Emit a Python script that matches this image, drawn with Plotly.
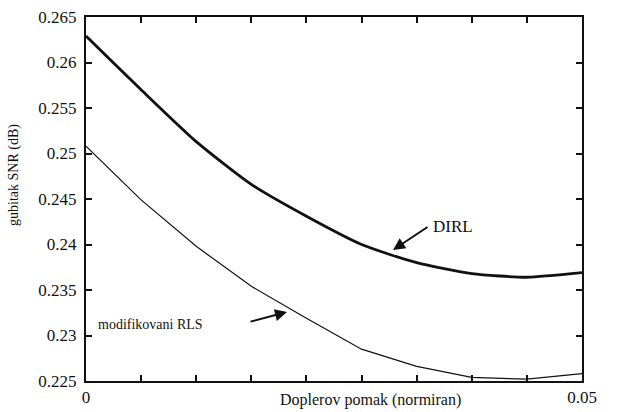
import plotly.graph_objects as go

# Doppler shift (normalized) sample points
doppler = [0.0, 0.005556, 0.011111, 0.016667, 0.022222, 0.027778, 0.033333, 0.038889, 0.044444, 0.05]
# SNR loss (dB)
dirl = [0.2629, 0.2570, 0.2513, 0.2466, 0.2431, 0.2400, 0.2380, 0.2368, 0.2364, 0.2369]
mod_rls = [0.2508, 0.2449, 0.2398, 0.2354, 0.2319, 0.2285, 0.2266, 0.2254, 0.2252, 0.2258]

x_tick_text = ["0", "", "", "", "", "", "", "", "", "0.05"]
y_tick_vals = [0.225, 0.23, 0.235, 0.24, 0.245, 0.25, 0.255, 0.26, 0.265]
y_tick_text = ["0.225", "0.23", "0.235", "0.24", "0.245", "0.25", "0.255", "0.26", "0.265"]

FONT = "Liberation Serif, Times New Roman, serif"
INK = "#111111"

fig = go.Figure()
fig.add_trace(go.Scatter(x=doppler, y=dirl, mode="lines", name="DIRL",
                         line=dict(color=INK, width=2.8, shape="spline", smoothing=0.6)))
fig.add_trace(go.Scatter(x=doppler, y=mod_rls, mode="lines", name="modifikovani RLS",
                         line=dict(color=INK, width=1.2)))

fig.update_layout(
    width=618, height=412,
    margin=dict(l=86, r=36, t=17, b=31),
    paper_bgcolor="white", plot_bgcolor="white",
    showlegend=False,
    font=dict(family=FONT, size=17, color=INK),
)
fig.update_xaxes(
    range=[0, 0.05], tickvals=doppler, ticktext=x_tick_text,
    ticks="inside", ticklen=6, tickwidth=1.5, tickcolor=INK,
    showline=True, linecolor=INK, linewidth=2, mirror="ticks",
    showgrid=False, zeroline=False, ticklabelstandoff=0, automargin=False,
    tickfont=dict(family=FONT, size=17, color=INK),
)
fig.update_yaxes(
    range=[0.225, 0.265], tickvals=y_tick_vals, ticktext=y_tick_text,
    ticks="inside", ticklen=6, tickwidth=1.5, tickcolor=INK,
    showline=True, linecolor=INK, linewidth=2, mirror="ticks",
    showgrid=False, zeroline=False, ticklabelstandoff=4, automargin=False,
    tickfont=dict(family=FONT, size=17, color=INK),
)

annotations = [
    dict(text="Doplerov pomak (normiran)", xref="paper", yref="paper", x=0.573, y=0,
         xanchor="center", yanchor="middle", yshift=-19, showarrow=False,
         font=dict(family=FONT, size=16, color=INK)),
    dict(text="gubitak SNR (dB)", xref="paper", yref="paper", x=0, y=0.566,
         xanchor="center", yanchor="middle", xshift=-72, textangle=-90, showarrow=False,
         font=dict(family=FONT, size=14, color=INK)),
    # DIRL label + arrow
    dict(text="", x=0.03095, y=0.2394, xref="x", yref="y", showarrow=True,
         ax=36, ay=-24, arrowhead=2, arrowsize=1.2, arrowwidth=2, arrowcolor=INK),
    dict(text="DIRL", x=0.0348, y=0.2420, xref="x", yref="y", xanchor="left",
         yanchor="middle", showarrow=False, font=dict(family=FONT, size=17, color=INK)),
    # modifikovani RLS label + arrow
    dict(text="", x=0.02026, y=0.23258, xref="x", yref="y", showarrow=True,
         ax=-38, ay=10, arrowhead=2, arrowsize=1.2, arrowwidth=2, arrowcolor=INK),
    dict(text="modifikovani RLS", x=0.0120, y=0.23116, xref="x", yref="y", xanchor="right",
         yanchor="middle", showarrow=False, font=dict(family=FONT, size=14, color=INK)),
]
fig.update_layout(annotations=annotations)

fig.write_html("out.html")
